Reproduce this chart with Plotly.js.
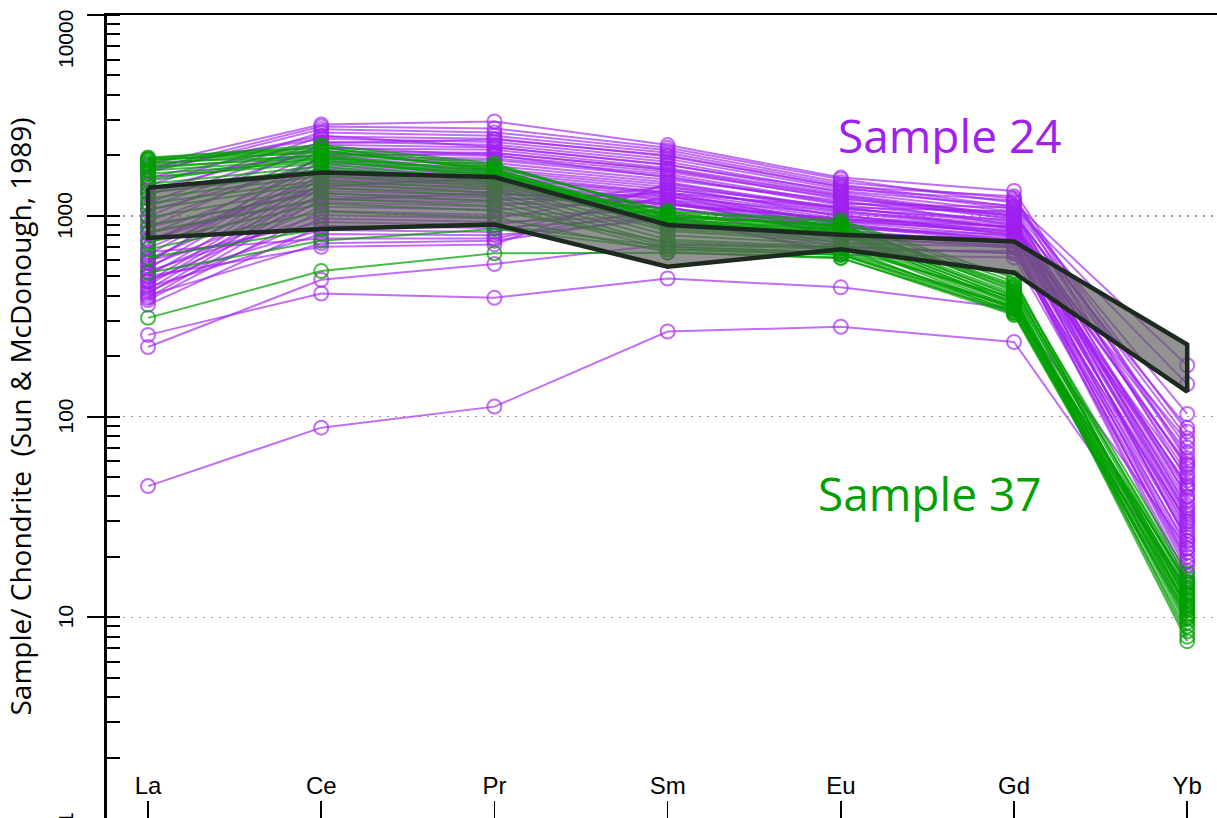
<!DOCTYPE html>
<html><head><meta charset="utf-8">
<script src="https://cdn.plot.ly/plotly-3.0.1.min.js"></script>
<style>html,body{margin:0;padding:0;background:#fff;overflow:hidden}</style>
</head><body><div id="chart" style="width:1217px;height:818px"></div>
<script>
// ---- data ----
const elements = ['La','Ce','Pr','Sm','Eu','Gd','Yb'];

// Sample 24 analyses (chondrite-normalised), one row per spot: La, Ce, Pr, Sm, Eu, Gd, Yb
const sample24 = [
  [1800, 2850, 2950, 2250, 1550, 1330, 62],
  [1700, 2780, 2720, 2180, 1520, 1160, 180],
  [1640, 2700, 2600, 2120, 1470, 1220, 48],
  [1420, 2600, 2500, 2060, 1430, 1110, 145],
  [1270, 2480, 2420, 1980, 1390, 1080, 55],
  [1750, 2420, 2330, 1920, 1360, 1190, 84],
  [1160, 2340, 2260, 1860, 1310, 1050, 40],
  [990, 2260, 2190, 1790, 1330, 1120, 103],
  [1110, 2170, 2130, 1730, 1260, 990, 35],
  [870, 2090, 2060, 1690, 1210, 1030, 70],
  [1520, 2030, 1990, 1650, 1230, 960, 29],
  [720, 1970, 1930, 1610, 1160, 1010, 52],
  [940, 1910, 1890, 1570, 1130, 940, 24],
  [640, 1860, 1830, 1510, 1190, 900, 66],
  [1060, 1810, 1770, 1470, 1090, 920, 31],
  [590, 1770, 1710, 1430, 1060, 870, 45],
  [810, 1730, 1670, 1390, 1110, 860, 19],
  [545, 1690, 1630, 1350, 1030, 880, 58],
  [1310, 1650, 1590, 1310, 1000, 830, 27],
  [500, 1610, 1530, 1280, 970, 850, 38],
  [690, 1570, 1490, 1250, 1010, 800, 22],
  [470, 1530, 1460, 1210, 950, 820, 75],
  [760, 1490, 1430, 1190, 930, 790, 33],
  [450, 1450, 1390, 1160, 910, 760, 17],
  [610, 1410, 1350, 1130, 970, 810, 43],
  [430, 1370, 1310, 1090, 890, 740, 26],
  [880, 1330, 1270, 1250, 870, 780, 50],
  [410, 1290, 1230, 1150, 850, 720, 21],
  [560, 1250, 1190, 1300, 910, 750, 30],
  [390, 1210, 1160, 1100, 830, 700, 16],
  [520, 1170, 1110, 1400, 990, 880, 36],
  [470, 1110, 1070, 1200, 790, 690, 25],
  [380, 1060, 1010, 1050, 770, 710, 18],
  [530, 1010, 970, 1350, 1050, 900, 40],
  [420, 970, 930, 1000, 730, 700, 15],
  [600, 930, 900, 1150, 880, 800, 28],
  [360, 890, 870, 980, 700, 650, 23],
  [480, 850, 830, 1250, 940, 840, 34],
  [440, 810, 800, 960, 670, 670, 20],
  [660, 770, 770, 1100, 820, 760, 46],
  [400, 730, 750, 1000, 640, 620, 19],
  [500, 700, 720, 1450, 1080, 950, 24],
  [1680, 2500, 2200, 1800, 1280, 1000, 88],
  [1550, 2300, 2400, 2000, 1400, 1250, 60],
  [1350, 2200, 2000, 1550, 1150, 1100, 78],
  [580, 2000, 2050, 1700, 1250, 970, 44],
  [750, 1400, 1550, 1300, 1100, 1050, 32],
  [820, 1200, 1300, 1150, 960, 880, 57],
  [255, 410, 390, 487, 440, 345, 22],
  [222, 480, 575, 720, 700, 650, 30],
  [45, 88, 112, 265, 280, 235, 14]
];

// Sample 37 analyses: La, Ce, Pr, Sm, Eu, Gd, Yb
const sample37 = [
  [1950, 2180, 1780, 1040, 930, 470, 14.5],
  [1930, 2250, 1820, 1010, 900, 445, 12.0],
  [1910, 2120, 1700, 990, 870, 430, 15.5],
  [1900, 2060, 1760, 1060, 950, 490, 11.0],
  [1870, 2200, 1660, 960, 860, 410, 13.2],
  [1840, 1980, 1620, 1000, 890, 455, 16.5],
  [1800, 2100, 1720, 940, 840, 400, 10.2],
  [1760, 1940, 1580, 980, 910, 420, 12.8],
  [1720, 2020, 1640, 920, 820, 385, 9.4],
  [1680, 1900, 1540, 1020, 880, 440, 14.0],
  [1620, 1860, 1600, 900, 800, 370, 11.6],
  [1560, 1820, 1500, 960, 850, 395, 8.0],
  [1500, 1950, 1680, 880, 780, 360, 13.6],
  [1440, 1760, 1470, 930, 830, 380, 7.6],
  [1380, 1700, 1520, 860, 760, 350, 12.4],
  [1300, 1640, 1440, 900, 810, 365, 10.8],
  [1220, 1580, 1400, 840, 740, 340, 15.0],
  [1150, 1500, 1360, 800, 720, 375, 9.0],
  [1080, 1450, 1300, 760, 700, 330, 11.2],
  [980, 1380, 1250, 720, 680, 345, 13.0],
  [900, 1300, 1180, 700, 660, 355, 8.5],
  [830, 1220, 1120, 680, 640, 325, 10.0],
  [735, 1150, 1060, 740, 690, 390, 12.2],
  [680, 1050, 980, 660, 620, 320, 9.8],
  [620, 860, 900, 700, 650, 335, 11.4],
  [520, 750, 860, 680, 640, 350, 14.8],
  [310, 530, 650, 655, 615, 330, 10.4]
];

// grey reference envelope (upper / lower limits)
const bandUpper = [1380, 1640, 1560, 900, 805, 745, 228];
const bandLower = [775, 860, 905, 557, 680, 520, 133];

const yTickValues = [1, 10, 100, 1000, 10000];
const yTickLabels = ['1', '10', '100', '1000', '10000'];
const yTitleText = 'Sample/ Chondrite \u00a0(Sun & McDonough, 1989)';
const label24 = 'Sample 24';
const label37 = 'Sample 37';

// ---- styles ----
const PURPLE = 'rgba(160,32,240,0.65)';
const GREEN = 'rgba(0,160,0,0.72)';

function spotTrace(row, color) {
  return {
    type: 'scatter', mode: 'lines+markers', x: elements, y: row,
    line: {color: color, width: 2},
    marker: {symbol: 'circle-open', size: 14, color: color, line: {width: 2, color: color}},
    hoverinfo: 'skip', showlegend: false
  };
}

const traces = [];
sample24.forEach(r => traces.push(spotTrace(r, PURPLE)));
sample37.forEach(r => traces.push(spotTrace(r, GREEN)));

const bandX = elements.concat(elements.slice().reverse(), [elements[0]]);
const bandY = bandUpper.concat(bandLower.slice().reverse(), [bandUpper[0]]);
traces.push({
  type: 'scatter', mode: 'lines', x: bandX, y: bandY, fill: 'toself',
  fillcolor: 'rgba(95,95,95,0.68)',
  line: {color: '#1c2a20', width: 4.5}, hoverinfo: 'skip', showlegend: false
});

const annotations = yTickValues.map((v, i) => ({
  xref: 'paper', yref: 'y', x: -0.0378, y: Math.log10(v),
  yshift: v === 10000 ? -24 : 0,
  text: yTickLabels[i], showarrow: false, textangle: -90,
  xanchor: 'center', yanchor: 'middle',
  font: {family: 'Liberation Sans, Arial, sans-serif', size: 21, color: 'black'}
}));
annotations.push({
  xref: 'x', yref: 'y', x: 4.63, y: 3.40, text: label24, showarrow: false,
  xanchor: 'center', yanchor: 'middle',
  font: {family: 'Open Sans, sans-serif', size: 46, color: '#A020F0'}
});
annotations.push({
  xref: 'x', yref: 'y', x: 4.515, y: 1.62, text: label37, showarrow: false,
  xanchor: 'center', yanchor: 'middle',
  font: {family: 'Open Sans, sans-serif', size: 46, color: '#00A000'}
});

const layout = {
  width: 1217, height: 818,
  margin: {l: 107, r: 0, t: 15, b: 0},
  paper_bgcolor: 'white', plot_bgcolor: 'white',
  showlegend: false,
  xaxis: {
    type: 'category', categoryorder: 'array', categoryarray: elements,
    range: [-0.237, 6.172],
    showline: true, mirror: true, linecolor: 'black', linewidth: 2,
    ticks: 'inside', ticklen: 17, tickwidth: 1.5, tickcolor: 'black',
    ticklabelposition: 'inside', ticklabelstandoff: 4,
    tickfont: {family: 'Liberation Sans, Arial, sans-serif', size: 24, color: 'black'},
    showgrid: false, zeroline: false, fixedrange: true
  },
  yaxis: {
    type: 'log', range: [0, 4],
    tickmode: 'array', tickvals: yTickValues, showticklabels: false,
    ticks: 'outside', ticklen: 17, tickwidth: 2, tickcolor: 'black',
    showline: true, linecolor: 'black', linewidth: 3,
    showgrid: true, gridcolor: '#9a9a9a', griddash: '2px,6px', gridwidth: 1.5,
    zeroline: false, fixedrange: true,
    minor: {dtick: 'D1', ticks: 'inside', ticklen: 13, tickwidth: 2, tickcolor: 'black', showgrid: false},
    title: {text: yTitleText, standoff: 48,
            font: {family: 'Open Sans, sans-serif', size: 28, color: 'black'}},
    automargin: false
  },
  annotations: annotations
};

Plotly.newPlot('chart', traces, layout, {staticPlot: true, displayModeBar: false});
</script>
</body></html>
